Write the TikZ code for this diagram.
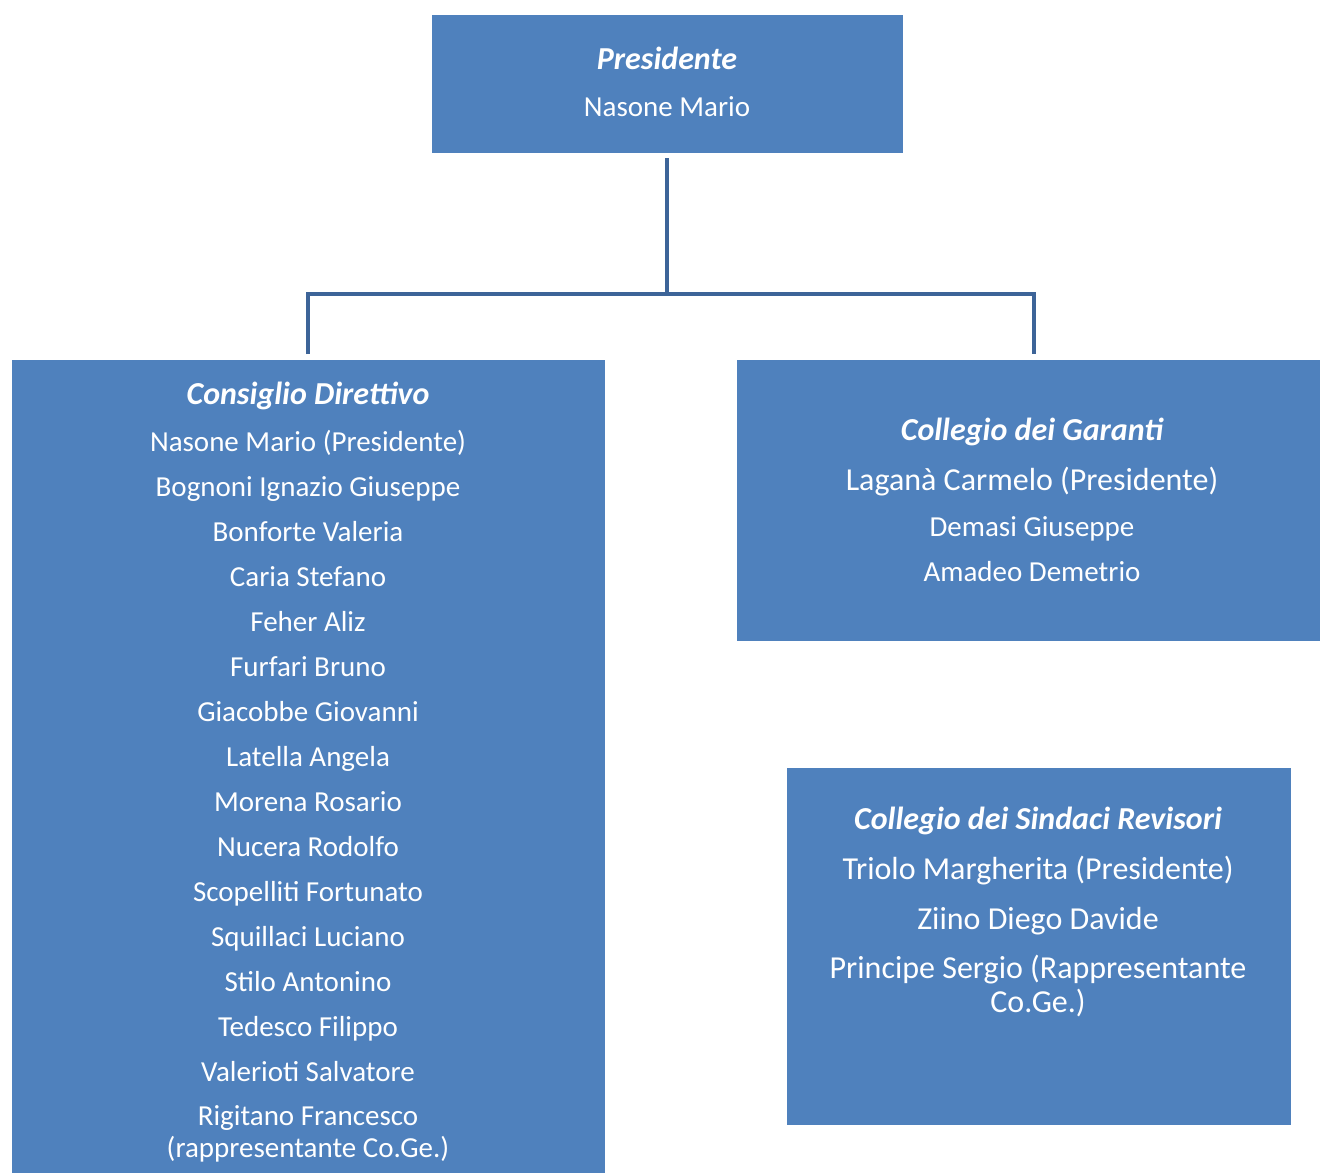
\documentclass[tikz,border=0pt]{standalone}
\usepackage{fontspec}
\setmainfont{Carlito}
\definecolor{boxblue}{HTML}{4F81BD}
\definecolor{lineblue}{HTML}{3D6498}
\begin{document}
\begin{tikzpicture}[x=0.5pt,y=-0.5pt,
  box/.style={fill=boxblue,draw=none,inner sep=0pt,outer sep=0pt},
  txt/.style={text=white,font=\fontsize{14.5pt}{17pt}\selectfont,inner sep=0pt,anchor=base},
  big/.style={txt,font=\fontsize{16pt}{19pt}\selectfont},
  ttl/.style={txt,font=\fontsize{16pt}{19pt}\selectfont\bfseries\itshape},
  conn/.style={draw=lineblue,line width=2pt}]
\useasboundingbox[fill=white] (0,0) rectangle (1320,1173);
% boxes
\path[box] (432,15) rectangle (903,153);
\coordinate (presB) at (667,158);
\path[box] (12,360) rectangle (605,1173);
\coordinate (cdT) at (308,354);
\path[box] (737,360) rectangle (1320,641);
\coordinate (cgT) at (1034,354);
\path[box] (787,768) rectangle (1291,1125);
% texts
\node[ttl] (p0) at (667,69) {Presidente};
\node[txt] (p1) at (667,116) {Nasone Mario};

\node[ttl] (c0) at (308,404) {Consiglio Direttivo};
\node[txt] (c1) at (308,451) {Nasone Mario (Presidente)};
\node[txt] (c2) at (308,496) {Bognoni Ignazio Giuseppe};
\node[txt] (c3) at (308,541) {Bonforte Valeria};
\node[txt] (c4) at (308,586) {Caria Stefano};
\node[txt] (c5) at (308,631) {Feher Aliz};
\node[txt] (c6) at (308,676) {Furfari Bruno};
\node[txt] (c7) at (308,721) {Giacobbe Giovanni};
\node[txt] (c8) at (308,766) {Latella Angela};
\node[txt] (c9) at (308,811) {Morena Rosario};
\node[txt] (c10) at (308,856) {Nucera Rodolfo};
\node[txt] (c11) at (308,901) {Scopelliti Fortunato};
\node[txt] (c12) at (308,946) {Squillaci Luciano};
\node[txt] (c13) at (308,991) {Stilo Antonino};
\node[txt] (c14) at (308,1036) {Tedesco Filippo};
\node[txt] (c15) at (308,1081) {Valerioti Salvatore};
\node[txt] (c16) at (308,1125) {Rigitano Francesco};
\node[txt] (c17) at (308,1157) {(rappresentante Co.Ge.)};

\node[ttl] (g0) at (1032,440) {Collegio dei Garanti};
\node[big] (g1) at (1032,490) {Laganà Carmelo (Presidente)};
\node[txt] (g2) at (1032,536) {Demasi Giuseppe};
\node[txt] (g3) at (1032,581) {Amadeo Demetrio};

\node[ttl] (s0) at (1038,829) {Collegio dei Sindaci Revisori};
\node[big] (s1) at (1038,879) {Triolo Margherita (Presidente)};
\node[big] (s2) at (1038,929) {Ziino Diego Davide};
\node[big] (s3) at (1038,978) {Principe Sergio (Rappresentante};
\node[big] (s4) at (1038,1012) {Co.Ge.)};
% connectors
\coordinate (mid) at (667,294);
\draw[conn] (presB) -- (mid);
\draw[conn] (cdT) |- (cgT |- mid) -- (cgT);
\end{tikzpicture}
\end{document}
